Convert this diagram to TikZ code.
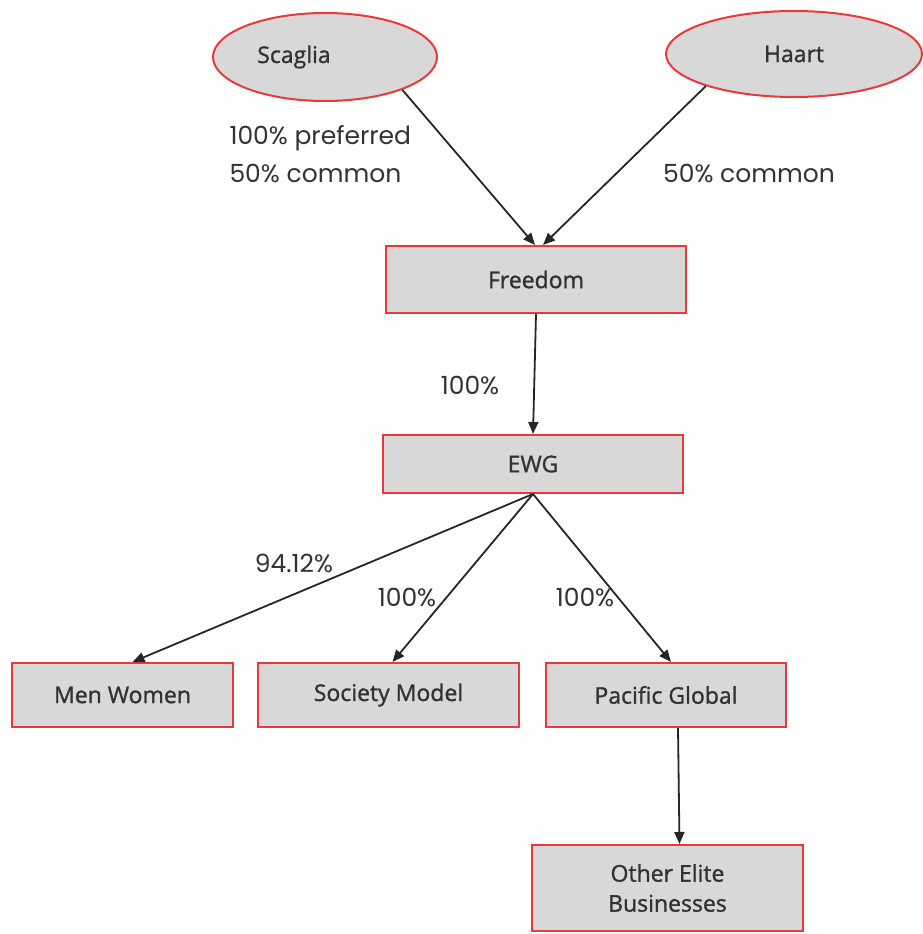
\documentclass[tikz,border=0pt]{standalone}
\usepackage{fontspec}
\setmainfont{Open Sans}
\newfontfamily\pctfont{Poppins}
\newfontfamily\boxfont[FakeBold=1.2]{Open Sans}
\usetikzlibrary{arrows.meta,shapes.geometric}
\definecolor{boxred}{RGB}{232,58,58}
\definecolor{boxgray}{RGB}{216,216,216}
\definecolor{inkgray}{RGB}{50,50,50}
\tikzset{
  entity/.style={draw=boxred, fill=boxgray, line width=2pt, text=inkgray,
    font=\boxfont\fontsize{23}{30}\selectfont, inner sep=0pt, align=center},
  owner/.style={entity, ellipse},
  firm/.style={entity, rectangle},
  share/.style={font=\pctfont\fontsize{25}{28}\selectfont, text=inkgray},
  link/.style={-{Triangle[length=12pt,width=10pt]}, line width=1.8pt, draw=black!85}
}
\begin{document}
\begin{tikzpicture}[x=1pt, y=-1pt]
    \useasboundingbox (0, 0) rectangle (922, 934);
    \node[owner, minimum width=224, minimum height=88] (Scaglia) at (325, 57) {Scaglia\hspace{62pt}};
    \node[owner, minimum width=256, minimum height=86] (Haart) at (794, 54) {Haart};
    \node[firm, minimum width=300, minimum height=67] (Freedom) at (536, 279.5) {Freedom};
    \node[firm, minimum width=300, minimum height=58] (EWG) at (533, 464) {EWG};
    \node[firm, minimum width=221, minimum height=64] (Men Women) at (122.5, 695) {Men Women};
    \node[firm, minimum width=261, minimum height=64] (Society Model) at (388.5, 695) {Society Model};
    \node[firm, minimum width=240, minimum height=64] (Pacific Global) at (666, 695) {Pacific Global};
    \node[firm, minimum width=271, minimum height=86] (Other Elite) at (667.5, 888) {Other Elite\\Businesses};
    \draw[link] (Scaglia.-23) -- ([xshift=-1pt]Freedom.north);
    \draw[link] (Haart.-160) -- ([xshift=7pt]Freedom.north);
    \draw[link] (Freedom.south) -- (EWG.north);
    \draw[link] (EWG.south) -- ([xshift=10pt]Men Women.north);
    \draw[link] (EWG.south) -- ([xshift=4pt]Society Model.north);
    \draw[link] (EWG.south) -- ([xshift=5pt]Pacific Global.north);
    \draw[link] ([xshift=12pt]Pacific Global.south) -- ([xshift=12pt]Other Elite.north);
    \node[share, anchor=west] (Scaglia Preferred) at (226, 138) {100\% preferred};
    \node[share, anchor=west] (Scaglia Common) at (226, 173) {50\% common};
    \node[share] (Haart Common) at (749, 173) {50\% common};
    \node[share] (Freedom Share) at (470, 385) {100\%};
    \node[share] (Men Women Share) at (294, 563) {94.12\%};
    \node[share] (Society Model Share) at (407, 597) {100\%};
    \node[share] (Pacific Global Share) at (585, 597) {100\%};
  \end{tikzpicture}
\end{document}
